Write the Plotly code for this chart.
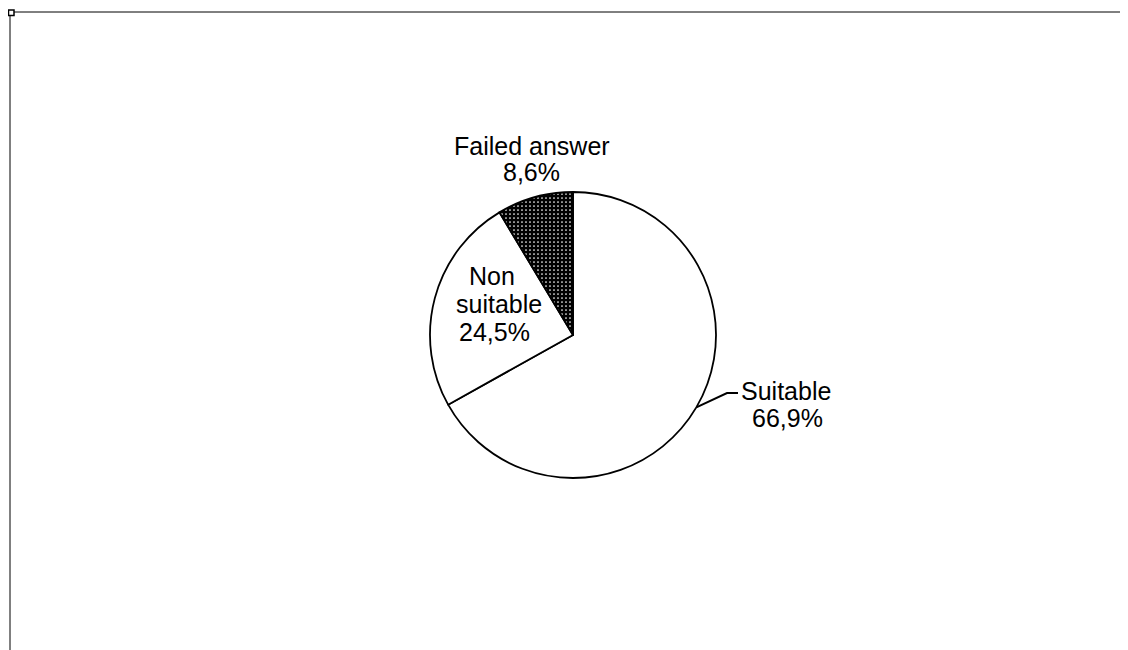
import math
import plotly.graph_objects as go

# ---- data ----
categories = ["Suitable", "Non suitable", "Failed answer"]
values = [66.9, 24.5, 8.6]
label_lines = [["Suitable", "66,9%"], ["Non", "suitable", "24,5%"], ["Failed answer", "8,6%"]]

OFF = 8  # browser body margin
W, H = 1128 - OFF, 650 - OFF
CX, CY, R = 573, 335, 143  # pie centre / radius in window px


def px(x):
    return (x - OFF) / W


def py(y):
    return 1 - (y - OFF) / H


FONT = dict(family="Liberation Sans, Arial, sans-serif", size=25, color="black")

fig = go.Figure(go.Pie(
    labels=categories,
    values=values,
    sort=False,
    direction="clockwise",
    rotation=0,
    textinfo="none",
    hoverinfo="label+percent",
    showlegend=False,
    marker=dict(
        colors=["white", "white", "black"],
        line=dict(color="black", width=1.8),
        pattern=dict(shape=["", "", "."], bgcolor=["white", "white", "black"],
                     fgcolor=["white", "white", "white"], size=4, solidity=0.15,
                     fillmode="replace"),
    ),
    domain=dict(x=[px(CX - R), px(CX + R)], y=[py(CY + R), py(CY - R)]),
))

# label positions (px centres of each text line)
label_pos = [
    [(786, 391), (787, 418)],
    [(492, 276), (499, 304), (494, 332)],
    [(532, 146), (531, 172)],
]
anns = []
for lines, poss in zip(label_lines, label_pos):
    for t, (x, y) in zip(lines, poss):
        anns.append(dict(x=px(x), y=py(y), xref="paper", yref="paper", text=t,
                         showarrow=False, font=FONT, xanchor="center", yanchor="middle"))

# leader line for "Suitable" from slice mid-angle on the rim
total = sum(values)
mid = values[0] / 2 / total * 2 * math.pi
ex = CX + R * math.sin(mid)
ey = CY - R * math.cos(mid)
shapes = [
    dict(type="path", xref="paper", yref="paper",
         path=f"M {px(ex)},{py(ey)} L {px(727)},{py(393)} L {px(738)},{py(393)}",
         line=dict(color="black", width=2)),
    # frame lines
    dict(type="line", xref="paper", yref="paper", x0=px(10), x1=1, y0=py(12), y1=py(12),
         line=dict(color="black", width=1)),
    dict(type="line", xref="paper", yref="paper", x0=px(10), x1=px(10), y0=py(12), y1=0,
         line=dict(color="black", width=1)),
    dict(type="rect", xref="paper", yref="paper", x0=px(8.5), x1=px(14), y0=py(10), y1=py(15.5),
         line=dict(color="black", width=1.5), fillcolor="white"),
]

fig.update_layout(
    width=W, height=H,
    margin=dict(l=0, r=0, t=0, b=0),
    paper_bgcolor="white",
    plot_bgcolor="white",
    annotations=anns,
    shapes=shapes,
)

fig.write_html("out.html")
